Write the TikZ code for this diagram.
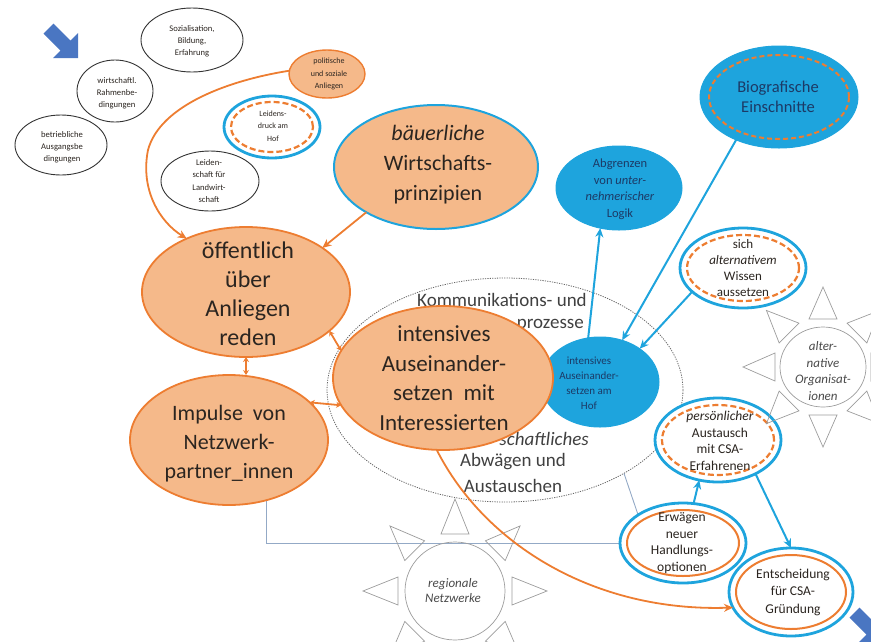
\documentclass[tikz,border=0pt]{standalone}
\usepackage{fontspec}
\setmainfont{Carlito}
\usetikzlibrary{shapes.geometric,arrows.meta,calc,backgrounds}

\definecolor{ofill}{HTML}{F5B98A}
\definecolor{oline}{HTML}{ED7D31}
\definecolor{bnode}{HTML}{1EA4DD}
\definecolor{btext}{HTML}{1C3A66}
\definecolor{sungray}{HTML}{9C9C9C}
\definecolor{linkgray}{HTML}{93A9C6}
\definecolor{blockblue}{HTML}{4A76C2}
\definecolor{inktext}{HTML}{2B2520}
\definecolor{suntext}{HTML}{4A4A4A}

\tikzset{
  sz/.style 2 args={minimum width=#1, minimum height=#2},
  shapebase/.style={ellipse, inner sep=0pt, outer sep=0pt},
  orangenode/.style={shapebase, fill=ofill, draw=oline, line width=1.8pt},
  orangeblue/.style={shapebase, fill=ofill, draw=bnode, line width=2pt},
  bluenode/.style={shapebase, fill=bnode, draw=bnode, line width=1pt},
  plainnode/.style={shapebase, fill=white, draw=black!80, line width=0.9pt},
  ringnode/.style={shapebase, fill=white, draw=bnode, line width=2.8pt},
  suncore/.style={shapebase, draw=sungray, line width=0.7pt},
  dotring/.style={shapebase, draw=black!60, line width=0.8pt, dash pattern=on 1.2pt off 1.2pt},
  innerdash/.style={draw=oline, line width=2.2pt, dash pattern=on 6pt off 3pt},
  innersolid/.style={draw=oline, line width=2pt},
  suntri/.style={draw=sungray, line width=0.7pt, line join=miter},
  txt/.style={inner sep=0pt, align=center, text=inktext},
  bluetxt/.style={inner sep=0pt, align=center, text=btext},
  suntxt/.style={inner sep=0pt, align=center, text=suntext, font=\fontsize{13}{16.5}\selectfont\itshape},
  ftiny/.style={font=\fontsize{8}{12.5}\selectfont},
  fsmall/.style={font=\fontsize{8.6}{12.2}\selectfont},
  fmid/.style={font=\fontsize{13.5}{16.5}\selectfont},
  oarrow/.style={draw=oline, line width=1.8pt, -{Stealth[length=9pt,width=8pt]}},
  otwo/.style={draw=oline, line width=1.8pt, {Stealth[length=5pt,width=6pt]}-{Stealth[length=5pt,width=6pt]}},
  barrow/.style={draw=bnode, line width=2pt, -{Stealth[length=9pt,width=8pt]}},
  linkline/.style={draw=linkgray, line width=0.9pt},
}

\begin{document}
\begin{tikzpicture}[x=1pt, y=-1pt]
\useasboundingbox (0,0) rectangle (871,641);

% block arrows
\fill[blockblue] (78,58) -- (53,58) -- (60.5,50.5) -- (43.5,33.5) -- (53.5,23.5) -- (70.5,40.5) -- (78,33) -- cycle;
\fill[blockblue] (884,642) -- (859,642) -- (866.5,634.5) -- (849.5,617.5) -- (859.5,607.5) -- (876.5,624.5) -- (884,617) -- cycle;

% framing conditions
\node[plainnode, sz={102pt}{64pt}] (soz) at (192,40) {};
\node[txt, fsmall] (sozT) at (192,41) {Sozialisation,\\Bildung,\\Erfahrung};
\node[plainnode, sz={76pt}{62pt}] (wir) at (115,91) {};
\node[txt, fsmall] (wirT) at (117,93) {wirtschaftl.\\Rahmenbe-\\dingungen};
\node[plainnode, sz={92pt}{60pt}] (bet) at (61,145) {};
\node[txt, fsmall] (betT) at (62,147) {betriebliche\\Ausgangsbe\\dingungen};
\node[plainnode, sz={98pt}{60pt}] (lsf) at (210,181) {};
\node[txt, fsmall] (lsfT) at (209,181) {Leiden-\\schaft für\\Landwirt-\\schaft};

\node[orangenode, line width=1.4pt, sz={76pt}{48pt}] (pol) at (327,74) {};
\node[txt, ftiny] (polT) at (329,74) {politische\\und soziale\\Anliegen};

\node[ringnode, sz={96pt}{62pt}] (lei) at (272,127) {};
\draw[innerdash] (lei.center) ellipse [x radius=41pt, y radius=25pt];
\node[txt, ftiny] (leiT) at (273,126) {Leidens-\\druck am\\Hof};

% communication and learning processes
\node[dotring, sz={356pt}{224pt}] (kom) at (505,390) {};
\node[txt, font=\fontsize{19}{24}\selectfont, text=black!75] (komA) at (502,300) {Kommunikations- und};
\node[txt, font=\fontsize{19}{24}\selectfont, text=black!75, anchor=east] (komB) at (584,325) {prozesse};
\node[txt, font=\fontsize{19}{24}\selectfont\itshape, text=black!75, anchor=east] (komC) at (589,439) {schaftliches};
\node[txt, font=\fontsize{19}{24}\selectfont, text=black!75] (komD) at (513,462) {Abwägen und};
\node[txt, font=\fontsize{19}{24}\selectfont, text=black!75] (komE) at (513,486) {Austauschen};

\node[bluenode, sz={118pt}{90pt}] (iah) at (600,382) {};
\node[bluetxt, font=\fontsize{11}{15}\selectfont] (iahT) at (589,383) {intensives\\Auseinander-\\setzen am\\Hof};

% main orange nodes
\node[orangeblue, sz={204pt}{124pt}] (bwp) at (436,167) {};
\node[txt, font=\fontsize{22}{30}\selectfont] (bwpT) at (438,165) {\textit{bäuerliche}\\Wirtschafts-\\prinzipien};

\node[orangenode, sz={208pt}{130pt}] (oef) at (246,292) {};
\node[txt, font=\fontsize{24}{29}\selectfont] (oefT) at (248,294) {öffentlich\\über\\Anliegen\\reden};

\node[orangenode, sz={198pt}{130pt}] (fpi) at (229,440) {};
\node[txt, font=\fontsize{22}{29}\selectfont] (fpiT) at (229,444) {Impulse~~von\\Netzwerk-\\partner\_innen};

\node[orangenode, sz={220pt}{144pt}] (igt) at (443,378) {};
\node[txt, font=\fontsize{23}{29.5}\selectfont] (igtT) at (444,378) {intensives\\Auseinander-\\setzen~~mit\\Interessierten};

% blue nodes
\node[bluenode, sz={126pt}{84pt}] (abg) at (619,188) {};
\node[bluetxt, font=\fontsize{12.5}{16.5}\selectfont] (abgT) at (620,189) {Abgrenzen\\von \textit{unter-}\\\textit{nehmerischer}\\Logik};

\node[bluenode, sz={158pt}{102pt}] (bio) at (779,97) {};
\draw[innerdash, line width=2pt, dash pattern=on 5pt off 3pt] (bio.center) ellipse [x radius=70pt, y radius=42pt];
\node[bluetxt, font=\fontsize{16.5}{20}\selectfont] (bioT) at (778,97) {Biografische\\Einschnitte};

\node[ringnode, sz={126pt}{80pt}] (alt) at (743,268) {};
\draw[innerdash] (alt.center) ellipse [x radius=56pt, y radius=33pt];
\node[txt, font=\fontsize{13}{16}\selectfont] (altT) at (743,268) {sich\\\textit{alternativem}\\Wissen\\aussetzen};

\node[ringnode, sz={126pt}{84pt}] (per) at (718,440) {};
\draw[innerdash] (per.center) ellipse [x radius=56pt, y radius=35pt];
\node[txt, fmid] (perT) at (720,441) {\textit{persönlicher}\\Austausch\\mit CSA-\\Erfahrenen};

\node[ringnode, sz={126pt}{80pt}] (erw) at (683,543) {};
\draw[innersolid] (erw.center) ellipse [x radius=56pt, y radius=33pt];
\node[txt, fmid] (erwT) at (682,543) {Erwägen\\neuer\\Handlungs-\\optionen};

\node[ringnode, sz={124pt}{88pt}] (ent) at (791,592) {};
\draw[innersolid] (ent.center) ellipse [x radius=55pt, y radius=37pt];
\node[txt, font=\fontsize{13.5}{17.5}\selectfont] (entT) at (793,592) {Entscheidung\\für CSA-\\Gründung};

% suns
\node[suncore, sz={86pt}{80pt}] (alo) at (823,367) {};
\foreach \a in {0,45,...,315}
  \draw[suntri] ($(alo.center)+(\a:48pt)+(\a+90:14pt)$) -- ($(alo.center)+(\a:80pt)$) -- ($(alo.center)+(\a:48pt)+(\a-90:14pt)$) -- cycle;
\node[suntxt] (aloT) at (823,371) {alter-\\native\\Organisat-\\ionen};

\node[suncore, sz={100pt}{98pt}] (reg) at (455,591) {};
\foreach \a in {0,45,...,315}
  \draw[suntri] ($(reg.center)+(\a:57pt)+(\a+90:14pt)$) -- ($(reg.center)+(\a:92pt)$) -- ($(reg.center)+(\a:57pt)+(\a-90:14pt)$) -- cycle;
\node[suntxt, font=\fontsize{13}{15}\selectfont\itshape] (regT) at (453,591) {regionale\\Netzwerke};

% thin links in the background
\begin{pgfonlayer}{background}
  \draw[linkline] (fpi.-58) |- (erw.west);
  \draw[linkline] (kom.-35) -- (erw.148);
\end{pgfonlayer}

% orange connectors
\draw[oarrow] (pol.175) .. controls (230,80) and (160,105) .. (148,150) .. controls (140,190) and (160,222) .. (oef.138);
\draw[oarrow] (bwp.213) -- (oef.30);
\draw[otwo] (oef.south) -- (oef.south |- fpi.north);
\draw[otwo] (oef.-25) -- (igt.165);
\draw[otwo] (fpi.25) -- (igt.195);
\draw[oarrow] (igt.265) .. controls (485,545) and (595,612) .. (ent.195);

% blue connectors
\draw[barrow] (iah.105) -- (abg.245);
\draw[barrow] (bio.225) -- (iah.62);
\draw[barrow] (alt.205) -- (iah.40);
\draw[barrow] (erw.75) -- (per.245);
\draw[barrow] (per.-42) -- (ent.north);
\end{tikzpicture}
\end{document}
